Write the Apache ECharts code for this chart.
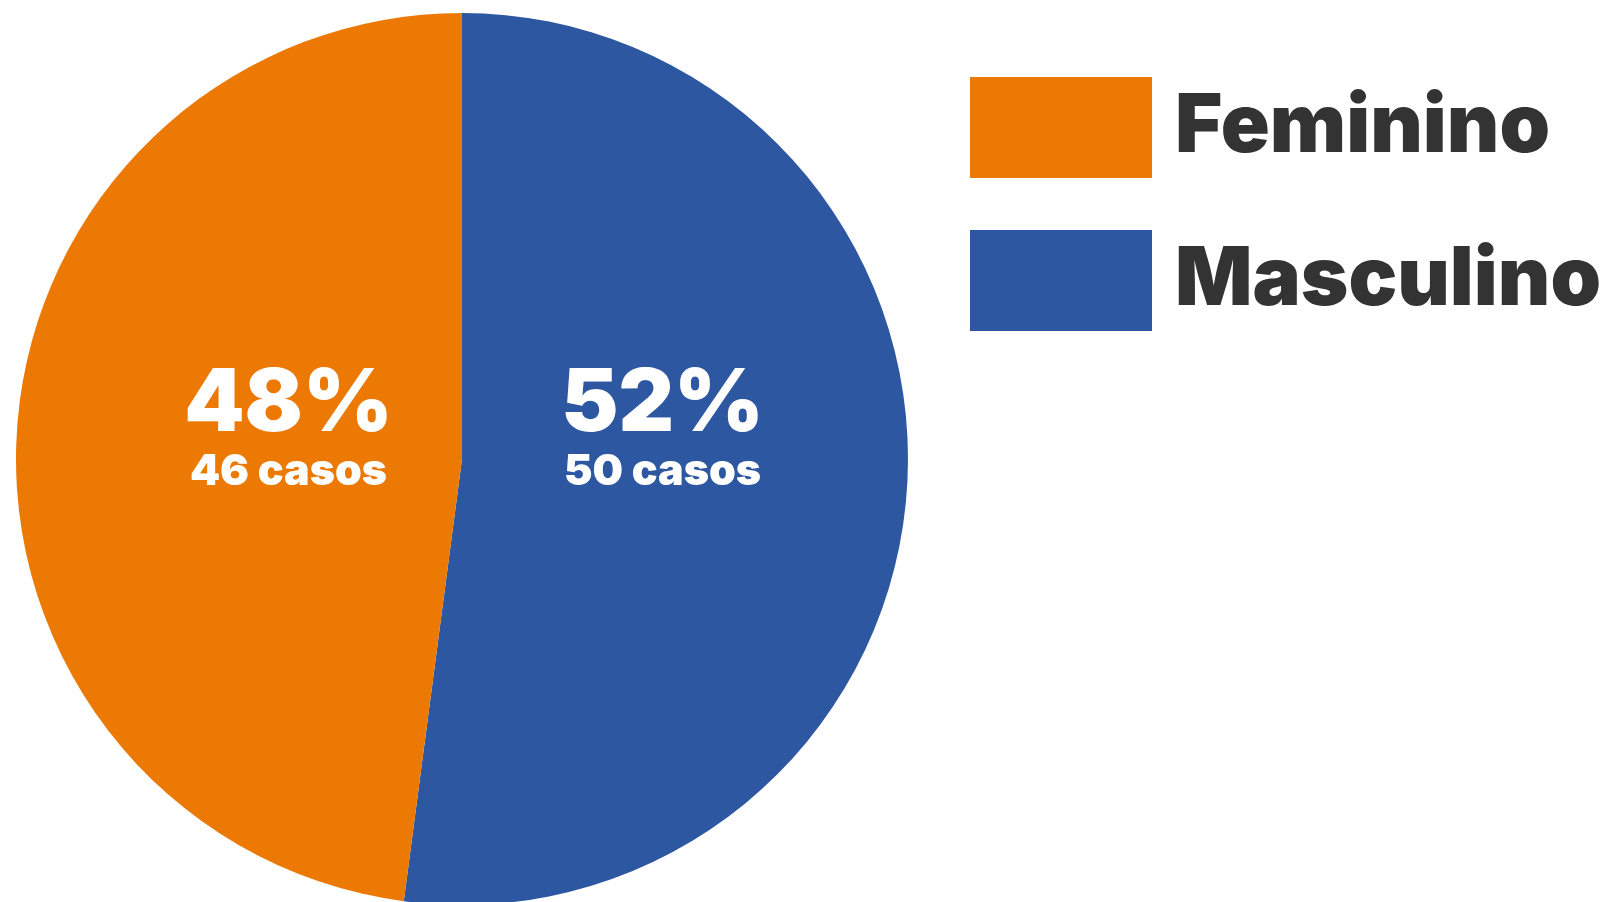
<!DOCTYPE html>
<html>
<head>
<meta charset="utf-8">
<script src="https://cdn.jsdelivr.net/npm/echarts@6/dist/echarts.min.js"></script>
<style>
    html, body { margin: 0; padding: 0; background: #fff; }
    #chart { width: 1608px; height: 902px; }
</style>
</head>
<body>
<div id="chart"></div>
<script>
    // dados
    var categories = ['Masculino', 'Feminino'];
    var casos = [50, 46];
    var colors = ['#2E57A2', '#EC7904'];
    var legendOrder = ['Feminino', 'Masculino'];

    // deslocamento dos rótulos (px) a partir da posição "inside"
    var labelShift = [[-25, -45], [52, -15]];

    var pieData = [];
    for (var i = 0; i < categories.length; i++) {
        pieData.push({
            name: categories[i],
            value: casos[i],
            itemStyle: { color: colors[i] }
        });
    }

    var myChart = echarts.init(document.getElementById('chart'));
    myChart.setOption({
        backgroundColor: '#ffffff',
        animation: false,
        legend: {
            orient: 'vertical',
            left: 970,
            top: 77,
            padding: 0,
            icon: 'rect',
            itemWidth: 182,
            itemHeight: 101,
            itemGap: 52,
            selectedMode: false,
            data: legendOrder,
            textStyle: {
                fontFamily: 'Inter',
                fontWeight: 900,
                fontSize: 81,
                color: '#333333',
                padding: [0, 0, 0, 18]
            }
        },
        series: [{
            type: 'pie',
            center: [462, 459],
            radius: 446,
            startAngle: 90,
            clockwise: true,
            silent: true,
            data: pieData,
            labelLine: { show: false },
            label: {
                show: true,
                position: 'inside',
                color: '#fff',
                fontFamily: 'Inter',
                fontWeight: 900,
                formatter: function (p) {
                    return '{p|' + Math.round(p.percent) + '%}\n{c|' + p.value + ' casos}';
                },
                rich: {
                    p: { fontFamily: 'Inter', fontWeight: 900, fontSize: 86, lineHeight: 86, color: '#fff' },
                    c: { fontFamily: 'Inter', fontWeight: 900, fontSize: 43, lineHeight: 48, color: '#fff' }
                }
            },
            labelLayout: function (params) {
                var s = labelShift[params.dataIndex];
                return { dx: s[0], dy: s[1] };
            }
        }]
    });
</script>
</body>
</html>
